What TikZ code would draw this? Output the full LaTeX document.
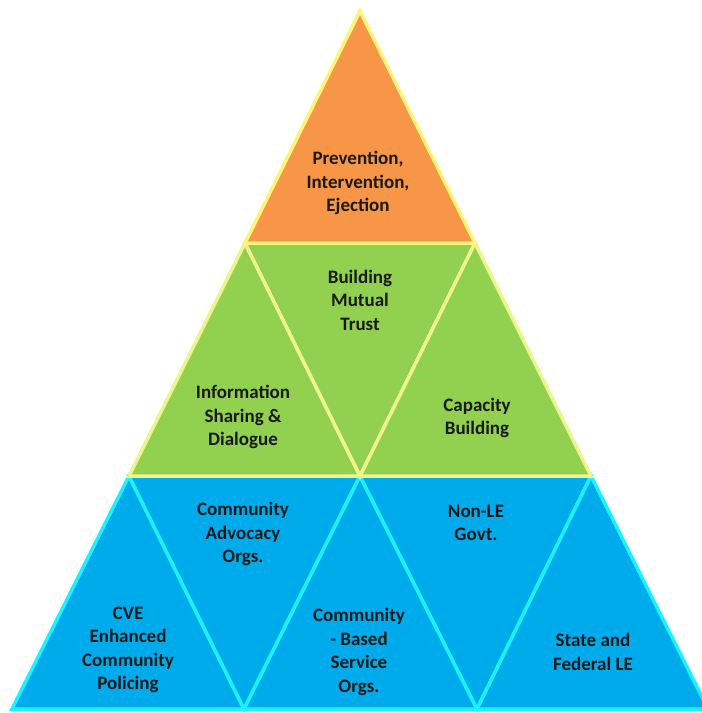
\documentclass[tikz,border=0pt]{standalone}
\usepackage{fontspec}
\setmainfont{Carlito}
\definecolor{orfill}{HTML}{F79646}
\definecolor{oredge}{HTML}{FFF57A}
\definecolor{grfill}{HTML}{92D050}
\definecolor{gredge}{HTML}{EFF58C}
\definecolor{blfill}{HTML}{00ABEC}
\definecolor{bledge}{HTML}{1CF2FF}
\tikzset{
  tri/.style={line width=3.5pt, line join=miter},
  ortri/.style={tri, fill=orfill, draw=oredge},
  grtri/.style={tri, fill=grfill, draw=gredge},
  bltri/.style={tri, fill=blfill, draw=bledge},
  lbl/.style={font=\bfseries\fontsize{19}{23.5}\selectfont, align=center, text=black!90, inner sep=0pt}
}
\begin{document}
\begin{tikzpicture}[x=1pt,y=-1pt]
\useasboundingbox (0,0) rectangle (702,713);
\coordinate (A) at (360,11);
\coordinate (B1) at (245,243);
\coordinate (B2) at (475,243);
\coordinate (C1) at (129,476);
\coordinate (C2) at (360,476);
\coordinate (C3) at (591,476);
\coordinate (D1) at (12,709);
\coordinate (D2) at (244,709);
\coordinate (D3) at (477,709);
\coordinate (D4) at (708,709);
% blue tier
\draw[bltri] (D1) -- (D2) -- (C1) -- cycle;
\draw[bltri] (C1) -- (C2) -- (D2) -- cycle;
\draw[bltri] (D2) -- (D3) -- (C2) -- cycle;
\draw[bltri] (C2) -- (C3) -- (D3) -- cycle;
\draw[bltri] (D3) -- (D4) -- (C3) -- cycle;
% green tier
\draw[grtri] (C1) -- (C2) -- (B1) -- cycle;
\draw[grtri] (B1) -- (B2) -- (C2) -- cycle;
\draw[grtri] (C2) -- (C3) -- (B2) -- cycle;
% orange tier
\draw[ortri] (B1) -- (B2) -- (A) -- cycle;
% labels
\node[lbl] (t1) at (358,183) {Prevention,\\Intervention,\\Ejection};
\node[lbl] (t2) at (360,300) {Building\\Mutual\\Trust};
\node[lbl] (t3) at (243,417) {Information\\Sharing \&\\Dialogue};
\node[lbl] (t4) at (477,418) {Capacity\\Building};
\node[lbl] (t5) at (243,534) {Community\\Advocacy\\Orgs.};
\node[lbl] (t6) at (476,523) {Non-LE\\Govt.};
\node[lbl] (t7) at (128,650) {CVE\\Enhanced\\Community\\Policing};
\node[lbl] (t8) at (359,652) {Community\\- Based\\Service\\Orgs.};
\node[lbl] (t9) at (593,652) {State and\\Federal LE};
\end{tikzpicture}
\end{document}
